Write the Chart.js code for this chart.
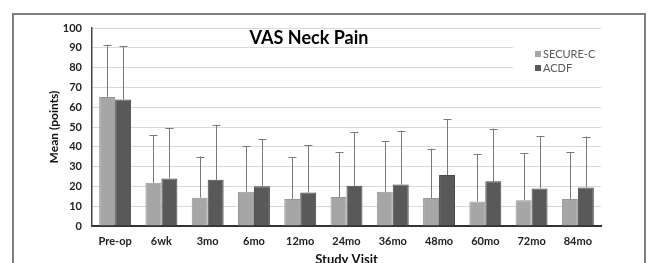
<!DOCTYPE html>
<html>
<head>
<meta charset="utf-8">
<script src="https://cdn.jsdelivr.net/npm/chart.js@4"></script>
<style>
  html, body { margin: 0; padding: 0; background: #fff; overflow: hidden; }
  #wrap { position: relative; width: 649px; height: 263px; }
  #frame { position: absolute; left: 12px; top: 13px; width: 630px; height: 270px; border: 2px solid #7f7f7f; pointer-events: none; }
  canvas { position: absolute; left: 0; top: 0; }
</style>
</head>
<body>
<div id="wrap">
  <canvas id="vasChart" width="649" height="263"></canvas>
  <div id="frame"></div>
</div>
<script>
// Dados do gráfico
const visits = ['Pre-op', '6wk', '3mo', '6mo', '12mo', '24mo', '36mo', '48mo', '60mo', '72mo', '84mo'];
const secureMean = [65.2, 21.8, 14.3, 17.3, 13.6, 14.6, 17.3, 14.1, 12.4, 13.0, 13.6];
const secureSd   = [26.4, 24.0, 20.8, 23.0, 21.0, 22.8, 25.5, 25.0, 24.0, 23.8, 23.8];
const acdfMean   = [63.9, 24.0, 23.3, 20.1, 16.9, 20.3, 20.9, 25.7, 22.6, 19.0, 19.5];
const acdfSd     = [27.0, 25.3, 27.8, 23.6, 23.8, 27.1, 27.3, 28.2, 26.6, 26.5, 25.7];
const yTicks = [0, 10, 20, 30, 40, 50, 60, 70, 80, 90, 100];

const FONT = 'Lato, "Open Sans", sans-serif';

// Barras de erro (apenas para cima)
const errorBars = {
    id: 'errorBars',
    afterDatasetsDraw(chart) {
        const ctx = chart.ctx;
        const yScale = chart.scales.y;
        const sds = [secureSd, acdfSd];
        chart.data.datasets.forEach((ds, i) => {
            const meta = chart.getDatasetMeta(i);
            meta.data.forEach((bar, j) => {
                const top = yScale.getPixelForValue(ds.data[j] + sds[i][j]);
                ctx.save();
                ctx.strokeStyle = '#7a7a7a';
                ctx.lineWidth = 1;
                ctx.beginPath();
                ctx.moveTo(Math.round(bar.x) + 0.5, bar.y);
                ctx.lineTo(Math.round(bar.x) + 0.5, top);
                ctx.moveTo(Math.round(bar.x) - 3.5, Math.round(top) + 0.5);
                ctx.lineTo(Math.round(bar.x) + 4.5, Math.round(top) + 0.5);
                ctx.stroke();
                ctx.restore();
            });
        });
    }
};

// Título e legenda desenhados dentro da área do gráfico
const overlay = {
    id: 'overlay',
    afterDraw(chart) {
        const ctx = chart.ctx;
        ctx.save();
        ctx.fillStyle = '#000';
        ctx.font = 'bold 18px ' + FONT;
        ctx.textAlign = 'center';
        ctx.textBaseline = 'middle';
        ctx.fillText('VAS Neck Pain', 309, 38);

        ctx.fillStyle = '#fff';
        ctx.fillRect(513, 44, chart.chartArea.right - 513, 30);
        const items = [['SECURE-C', chart.data.datasets[0].backgroundColor], ['ACDF', chart.data.datasets[1].backgroundColor]];
        ctx.font = '11px ' + FONT;
        ctx.textAlign = 'left';
        items.forEach((it, k) => {
            const y = 54 + k * 14;
            ctx.fillStyle = it[1];
            ctx.fillRect(535, y - 3, 6, 6);
            ctx.fillStyle = '#595959';
            ctx.fillText(it[0], 543, y);
        });
        ctx.restore();
    }
};

const ctx = document.getElementById('vasChart').getContext('2d');
const vasChart = new Chart(ctx, {
    type: 'bar',
    data: {
        labels: visits,
        datasets: [{
            label: 'SECURE-C',
            data: secureMean,
            backgroundColor: '#a6a6a6',
            borderColor: '#969696',
            borderWidth: 1,
            categoryPercentage: 0.69,
            barPercentage: 1.0
        }, {
            label: 'ACDF',
            data: acdfMean,
            backgroundColor: '#595959',
            borderColor: '#4a4a4a',
            borderWidth: 1,
            categoryPercentage: 0.69,
            barPercentage: 1.0
        }]
    },
    options: {
        responsive: false,
        animation: false,
        layout: { padding: { left: 0, right: 48, top: 28, bottom: 0 } },
        plugins: {
            legend: { display: false },
            tooltip: { enabled: false }
        },
        scales: {
            x: {
                afterFit: s => { s.height = 37; },
                grid: { display: false, drawTicks: false },
                border: { color: '#333', width: 2 },
                ticks: {
                    color: '#222',
                    padding: 9,
                    font: { family: FONT, size: 11, weight: 'bold' }
                },
                title: {
                    display: true,
                    text: 'Study Visit',
                    color: '#111',
                    padding: { top: 0, bottom: -5 },
                    font: { family: FONT, size: 13, weight: 'bold' }
                }
            },
            y: {
                min: 0,
                max: 100,
                afterFit: s => { s.width = 92; },
                afterBuildTicks: s => { s.ticks = yTicks.map(v => ({ value: v })); },
                grid: { color: '#d9d9d9', drawTicks: false },
                border: { color: '#444', width: 1.5 },
                ticks: {
                    color: '#222',
                    padding: 10,
                    font: { family: FONT, size: 11, weight: 'bold' }
                },
                title: {
                    display: true,
                    text: 'Mean (points)',
                    color: '#111',
                    padding: { top: 47, bottom: 0 },
                    font: { family: FONT, size: 12, weight: 'bold' }
                }
            }
        }
    },
    plugins: [errorBars, overlay]
});
</script>
</body>
</html>
